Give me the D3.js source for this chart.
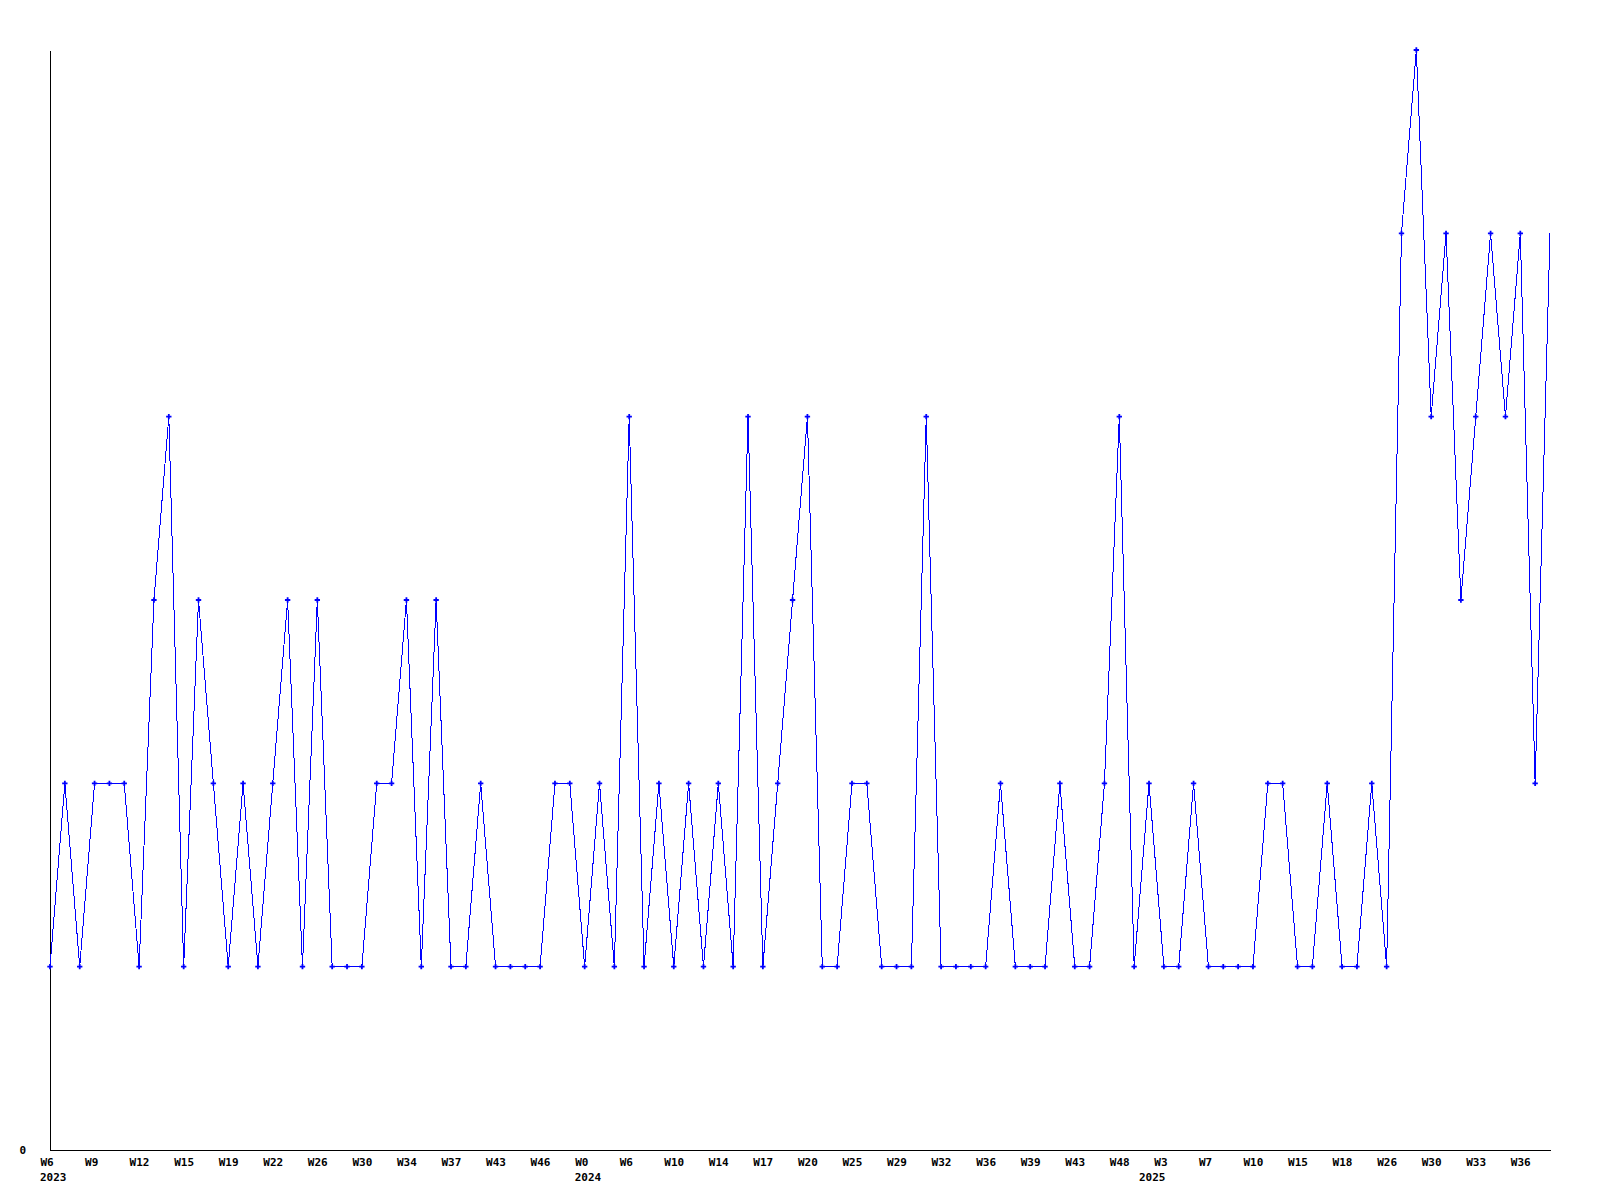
<!DOCTYPE html>
<html>
<head>
<meta charset="utf-8">
<script src="https://cdn.jsdelivr.net/npm/d3@7"></script>
<style>
  body { margin: 0; background: #fff; }
  .axis text, .year { font-family: "DejaVu Sans Mono", monospace; font-weight: bold; font-size: 11px; fill: #000; }
  .axis path { stroke: #000; shape-rendering: crispEdges; }
</style>
</head>
<body>
<div id="chart"></div>
<script>
// weekly counts, one value per plotted point
const values = [1,2,1,2,2,2,1,3,4,1, 3,2,1,2,1,2,3,1,3,1,
                1,1,2,2,3,1,3,1,1,2, 1,1,1,1,2,2,1,2,1,4,
                1,2,1,2,1,2,1,4,1,2, 3,4,1,1,2,2,1,1,1,4,
                1,1,1,1,2,1,1,1,2,1, 1,2,4,1,2,1,1,2,1,1,
                1,1,2,2,1,1,2,1,1,2, 1,5,6,4,5,3,4,5,4,5,
                2,5];

// a week label sits on every third point
const weekLabels = ["W6","W9","W12","W15","W19","W22","W26","W30","W34","W37","W43","W46",
                    "W0","W6","W10","W14","W17","W20","W25","W29","W32","W36","W39","W43",
                    "W48","W3","W7","W10","W15","W18","W26","W30","W33","W36"];
const labelStep = 3;

// year marks at the first point of each year
const yearIndex = [0, 36, 74];
const yearText = ["2023", "2024", "2025"];

const width = 1600, height = 1200;
const margin = {top: 50, right: 50, bottom: 50, left: 50};
const labelShift = -10; // labels start 1.5 chars left of their point

const svg = d3.select("#chart").append("svg")
  .attr("width", width)
  .attr("height", height);

const x = d3.scaleLinear()
  .domain([0, values.length - 1])
  .range([margin.left, width - margin.right]);

const y = d3.scaleLinear()
  .domain([0, d3.max(values)])
  .range([height - margin.bottom, margin.top]);

// x axis
const xAxis = svg.append("g")
  .attr("class", "axis")
  .attr("transform", "translate(0," + (height - margin.bottom) + ")")
  .call(d3.axisBottom(x)
    .tickValues(d3.range(0, values.length, labelStep))
    .tickSize(0)
    .tickPadding(8)
    .tickFormat((d, i) => weekLabels[i]));

xAxis.selectAll(".tick text")
  .attr("text-anchor", "start")
  .attr("x", labelShift);

svg.append("g")
  .selectAll("text")
  .data(yearIndex)
  .join("text")
  .attr("class", "year")
  .attr("x", d => x(d) + labelShift)
  .attr("y", height - margin.bottom + 31)
  .text((d, i) => yearText[i]);

// y axis, only the zero label
svg.append("g")
  .attr("class", "axis")
  .attr("transform", "translate(" + margin.left + ",0)")
  .call(d3.axisLeft(y)
    .tickValues([0])
    .tickFormat(d3.format("d"))
    .tickSize(0)
    .tickSizeOuter(0)
    .tickPadding(24));

// line
const line = d3.line()
  .x((d, i) => x(i))
  .y(d => y(d));

svg.append("path")
  .datum(values)
  .attr("fill", "none")
  .attr("stroke", "#0000ff")
  .attr("stroke-width", 1)
  .style("shape-rendering", "crispEdges")
  .attr("d", line);

// markers (the last point sits on the plot edge and has none)
const cross = d3.symbol().type(d3.symbolCross).size(16);
svg.append("g")
  .selectAll("path")
  .data(values.slice(0, -1))
  .join("path")
  .attr("transform", (d, i) => "translate(" + x(i) + "," + y(d) + ")")
  .attr("d", cross)
  .attr("fill", "#0000ff");
</script>
</body>
</html>
